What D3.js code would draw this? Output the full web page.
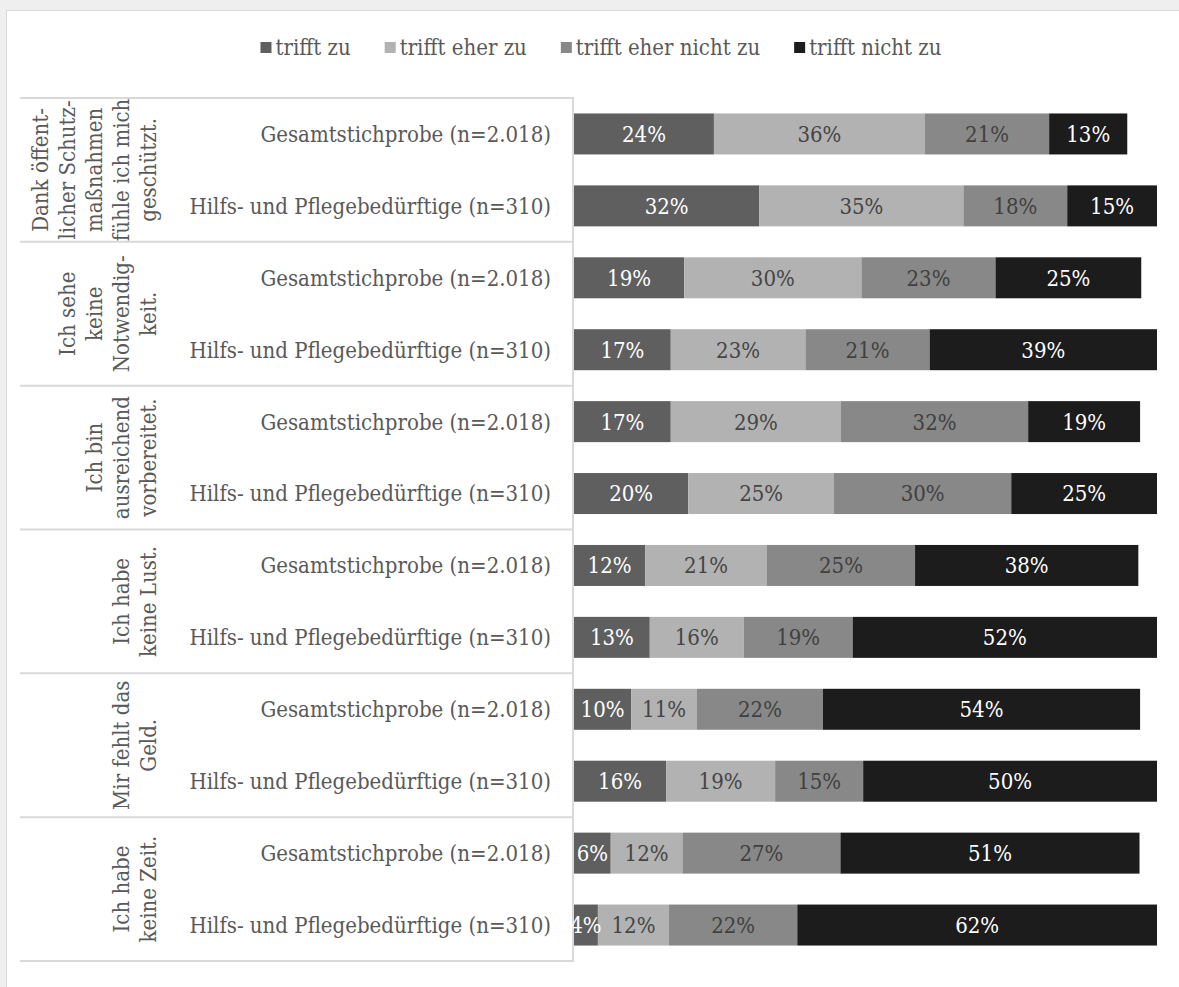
<!DOCTYPE html>
<html>
<head>
<meta charset="utf-8">
<script src="https://cdn.jsdelivr.net/npm/d3@7"></script>
<style>
  body { margin: 0; background: #efefef; }
  svg { display: block; }
  text { font-family: "DejaVu Serif Condensed", "DejaVu Serif", serif; }
</style>
</head>
<body>
<div id="chart"></div>
<script>
// answer categories (legend order = stack order)
const answers = ["trifft zu", "trifft eher zu", "trifft eher nicht zu", "trifft nicht zu"];

// statements, already broken into lines as in the original
const statements = [
  ["Dank öffent-", "licher Schutz-", "maßnahmen", "fühle ich mich", "geschützt."],
  ["Ich sehe", "keine", "Notwendig-", "keit."],
  ["Ich bin", "ausreichend", "vorbereitet."],
  ["Ich habe", "keine Lust."],
  ["Mir fehlt das", "Geld."],
  ["Ich habe", "keine Zeit."]
];

const samples = ["Gesamtstichprobe (n=2.018)", "Hilfs- und Pflegebedürftige (n=310)"];

// one value per bar: statement 1 / sample 1, statement 1 / sample 2, ...
const trifftZu          = [24.0, 31.8, 18.9, 16.6, 16.6, 19.6, 12.2, 13.0,  9.8, 15.8,  6.3,  4.1];
const trifftEherZu      = [36.2, 35.0, 30.4, 23.1, 29.2, 25.0, 20.9, 16.1, 11.3, 18.7, 12.3, 12.2];
const trifftEherNichtZu = [21.3, 17.8, 23.0, 21.3, 32.1, 30.4, 25.4, 18.7, 21.6, 15.1, 27.1, 22.0];
const trifftNichtZu     = [13.4, 15.4, 25.0, 39.0, 19.2, 25.0, 38.3, 52.2, 54.4, 50.4, 51.3, 61.7];

const colors = ["#5f5f5f", "#b2b2b2", "#888888", "#1c1c1c"];
const valueColors = ["#ffffff", "#454545", "#404040", "#ffffff"];

const W = 1179, H = 987;
const series = [trifftZu, trifftEherZu, trifftEherNichtZu, trifftNichtZu];

const rows = [];
statements.forEach((s, i) => {
  samples.forEach((p, j) => {
    const idx = i * samples.length + j;
    const row = { key: idx, group: i, sample: p };
    answers.forEach((a, k) => { row[a] = series[k][idx]; });
    rows.push(row);
  });
});

const svg = d3.select("#chart").append("svg")
  .attr("width", W)
  .attr("height", H);

// page frame
svg.append("rect").attr("width", W).attr("height", H).attr("fill", "#efefef");
svg.append("rect")
  .attr("x", 6.5).attr("y", 10.5)
  .attr("width", W).attr("height", H)
  .attr("fill", "#ffffff")
  .attr("stroke", "#d9d9d9");

const plotTop = 98, plotBottom = 961;
const tableLeft = 20, tableRight = 573;

const y = d3.scaleBand()
  .domain(rows.map(d => d.key))
  .range([plotTop, plotBottom])
  .paddingInner(0.43)
  .paddingOuter(0.215);

const yGroup = d3.scaleBand()
  .domain(d3.range(statements.length))
  .range([plotTop, plotBottom]);

const x = d3.scaleLinear()
  .domain([0, 100])
  .range([574, 1157]);

const stacked = d3.stack().keys(answers)(rows);

// table lines
const grid = svg.append("g").attr("stroke", "#d9d9d9").attr("stroke-width", 2);
grid.selectAll("line.h")
  .data(d3.range(statements.length + 1))
  .join("line")
  .attr("class", "h")
  .attr("x1", tableLeft).attr("x2", tableRight)
  .attr("y1", d => d < statements.length ? yGroup(d) : plotBottom)
  .attr("y2", d => d < statements.length ? yGroup(d) : plotBottom);
grid.append("line")
  .attr("x1", tableRight).attr("x2", tableRight)
  .attr("y1", plotTop - 1).attr("y2", plotBottom + 1);

// bars
const layers = svg.append("g").selectAll("g")
  .data(stacked)
  .join("g")
  .attr("fill", (d, i) => colors[i]);

layers.selectAll("rect")
  .data(d => d)
  .join("rect")
  .attr("x", d => x(d[0]))
  .attr("y", d => y(d.data.key))
  .attr("width", d => x(d[1]) - x(d[0]))
  .attr("height", y.bandwidth());

// value labels
const valueLayers = svg.append("g").selectAll("g")
  .data(stacked)
  .join("g")
  .attr("fill", (d, i) => valueColors[i]);

valueLayers.selectAll("text")
  .data(d => d)
  .join("text")
  .attr("x", d => (x(d[0]) + x(d[1])) / 2)
  .attr("y", d => y(d.data.key) + y.bandwidth() / 2)
  .attr("dy", "0.36em")
  .attr("text-anchor", "middle")
  .attr("font-size", 22)
  .text(d => Math.round(d[1] - d[0]) + "%");

// sample labels
svg.append("g").selectAll("text")
  .data(rows)
  .join("text")
  .attr("x", 551)
  .attr("y", d => y(d.key) + y.bandwidth() / 2)
  .attr("dy", "0.36em")
  .attr("text-anchor", "end")
  .attr("font-size", 22)
  .attr("fill", "#595959")
  .text(d => d.sample);

// statement labels (rotated)
const lineStep = 27, lastLineX = 148;
const groups = svg.append("g").selectAll("g")
  .data(statements)
  .join("g");

groups.selectAll("text")
  .data((lines, i) => lines.map((t, k) => ({ t, k, n: lines.length, i })))
  .join("text")
  .attr("transform", d => {
    const cx = lastLineX - (d.n - 1 - d.k) * lineStep;
    const cy = yGroup(d.i) + yGroup.bandwidth() / 2;
    return "translate(" + cx + "," + cy + ") rotate(-90)";
  })
  .attr("dy", "0.36em")
  .attr("text-anchor", "middle")
  .attr("font-size", 22)
  .attr("fill", "#595959")
  .text(d => d.t);

// legend, centred
const legend = svg.append("g");
const items = legend.selectAll("g")
  .data(answers)
  .join("g");
items.append("rect")
  .attr("width", 11).attr("height", 11)
  .attr("y", 42)
  .attr("fill", (d, i) => colors[i]);
items.append("text")
  .attr("x", 15)
  .attr("y", 47.5)
  .attr("dy", "0.36em")
  .attr("font-size", 22)
  .attr("fill", "#595959")
  .text(d => d);

const gap = 34;
const widths = items.nodes().map(n => 15 + n.querySelector("text").getComputedTextLength());
const total = d3.sum(widths) + gap * (widths.length - 1);
let cursor = 601 - total / 2;
items.attr("transform", (d, i) => {
  const t = "translate(" + cursor + ",0)";
  cursor += widths[i] + gap;
  return t;
});
</script>
</body>
</html>
